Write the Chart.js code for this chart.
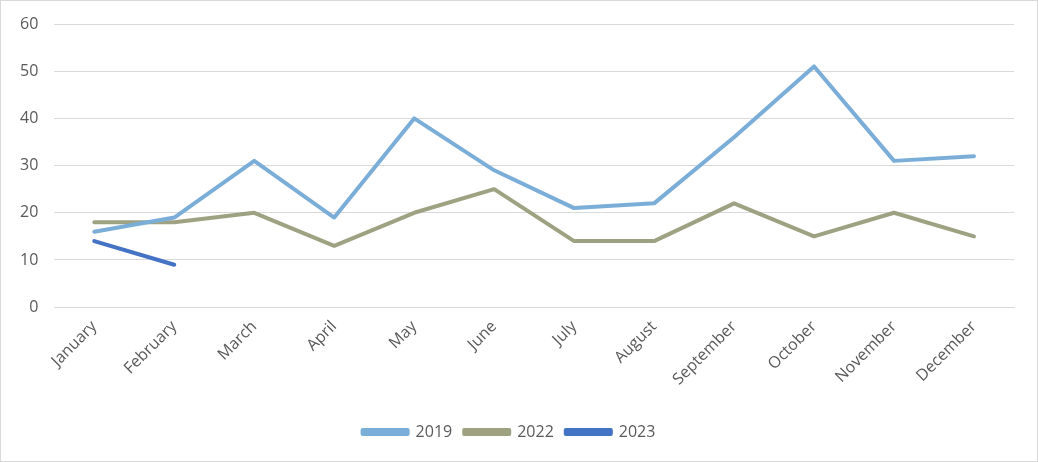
<!DOCTYPE html>
<html>
<head>
<meta charset="utf-8">
<script src="https://cdn.jsdelivr.net/npm/chart.js@4"></script>
<style>
    html, body { margin: 0; padding: 0; background: #fff; }
    #wrap { position: relative; width: 1036px; height: 460px; border: 1px solid #d9d9d9; }
</style>
</head>
<body>
<div id="wrap"><canvas id="chart"></canvas></div>
<script>
// Data
const months = ['January', 'February', 'March', 'April', 'May', 'June', 'July', 'August', 'September', 'October', 'November', 'December'];
const values2019 = [16, 19, 31, 19, 40, 29, 21, 22, 36, 51, 31, 32];
const values2022 = [18, 18, 20, 13, 20, 25, 14, 14, 22, 15, 20, 15];
const values2023 = [14, 9];
const yTicks = [0, 10, 20, 30, 40, 50, 60];

const textColor = '#595959';
const gridColor = '#d9d9d9';

function lineSet(label, data, color) {
    return {
        label: label,
        data: data,
        borderColor: color,
        backgroundColor: color,
        borderWidth: 4,
        pointRadius: 0,
        tension: 0,
        borderCapStyle: 'round',
        borderJoinStyle: 'round'
    };
}

new Chart(document.getElementById('chart'), {
    type: 'line',
    data: {
        labels: months,
        datasets: [
            lineSet('2019', values2019, '#7badd9'),
            lineSet('2022', values2022, '#9ea283'),
            lineSet('2023', values2023, '#4472c4')
        ]
    },
    options: {
        responsive: true,
        maintainAspectRatio: false,
        animation: false,
        layout: { padding: { left: 3, right: 23, top: 23, bottom: 11 } },
        plugins: {
            tooltip: { enabled: false },
            legend: {
                position: 'bottom',
                labels: {
                    color: textColor,
                    font: { family: 'Open Sans', size: 16 },
                    boxWidth: 45,
                    boxHeight: 4,
                    padding: 12
                }
            }
        },
        scales: {
            x: {
                offset: true,
                grid: { display: false },
                border: { color: gridColor },
                ticks: {
                    color: textColor,
                    font: { family: 'Open Sans', size: 16 },
                    minRotation: 45,
                    maxRotation: 45,
                    padding: 2
                },
                // rotated labels may hang past the plot edge, like the original
                afterFit: scale => {
                    scale.paddingLeft = 0;
                    scale.paddingRight = 0;
                    scale.height += 21;
                }
            },
            y: {
                min: 0,
                max: 60,
                afterBuildTicks: axis => { axis.ticks = yTicks.map(v => ({ value: v })); },
                afterFit: scale => {
                    scale.paddingTop = 0;
                    scale.paddingBottom = 0;
                },
                grid: { color: gridColor, lineWidth: 1, drawTicks: false },
                border: { display: false },
                ticks: {
                    color: textColor,
                    font: { family: 'Open Sans', size: 16 },
                    padding: 16
                }
            }
        }
    }
});
</script>
</body>
</html>
